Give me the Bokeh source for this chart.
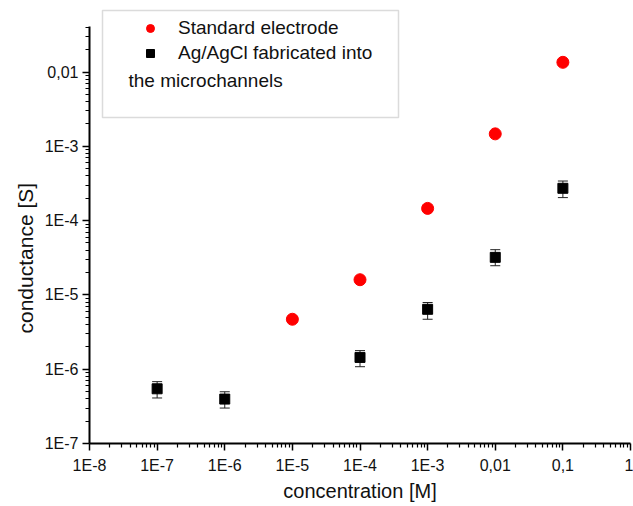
import math
from bokeh.plotting import figure
from bokeh.models import (ColumnDataSource, FixedTicker, Whisker, TeeHead, Legend,
                          LegendItem, Label, BoxAnnotation, Range1d, CustomJSTickFormatter, Title)
from bokeh.embed import file_html
from bokeh.resources import INLINE

# ---- data ----
conc_std = [1e-5, 1e-4, 1e-3, 1e-2, 1e-1]
g_std = [4.7e-6, 1.6e-5, 1.46e-4, 1.47e-3, 1.35e-2]

conc_ag = [1e-7, 1e-6, 1e-4, 1e-3, 1e-2, 1e-1]
g_ag = [5.45e-7, 3.96e-7, 1.44e-6, 6.4e-6, 3.2e-5, 2.72e-4]
g_ag_hi = [6.8e-7, 4.97e-7, 1.78e-6, 7.9e-6, 4.06e-5, 3.41e-4]
g_ag_lo = [4.1e-7, 3.0e-7, 1.08e-6, 4.7e-6, 2.47e-5, 2.04e-4]

x_ticks = [1e-8, 1e-7, 1e-6, 1e-5, 1e-4, 1e-3, 1e-2, 1e-1, 1.0]
x_tick_labels = ["1E-8", "1E-7", "1E-6", "1E-5", "1E-4", "1E-3", "0,01", "0,1", "1"]
y_ticks = [1e-7, 1e-6, 1e-5, 1e-4, 1e-3, 1e-2]
y_tick_labels = ["1E-7", "1E-6", "1E-5", "1E-4", "1E-3", "0,01"]
y_axis_top = 0.0405          # where the drawn y axis ends
y_view_top = 0.081           # extra room above the axis for the legend

x_title = "concentration [M]"
y_title = "conductance [S]"
label_std = "Standard electrode"
label_ag_1 = "Ag/AgCl fabricated into"
label_ag_2 = "the microchannels"

FONT = "Liberation Sans"
TXT = "#111111"

p = figure(width=633, height=506, x_axis_type="log", y_axis_type="log",
           x_range=Range1d(1e-8, 1.0), y_range=Range1d(1e-7, y_view_top),
           output_backend="svg", toolbar_location=None,
           min_border_left=89, min_border_right=3, min_border_top=4, min_border_bottom=63)
p.outline_line_color = None
p.xgrid.visible = False
p.ygrid.visible = False
p.background_fill_color = "white"
p.border_fill_color = "white"

def minor_for(ticks_list, top=None):
    out = []
    for t in ticks_list:
        for k in range(2, 10):
            v = t * k
            if top is None or v <= top * 1.0001:
                out.append(v)
    return out

x_minor = minor_for(x_ticks[:-1])
y_minor = minor_for(y_ticks, top=y_axis_top)

p.xaxis.ticker = FixedTicker(ticks=x_ticks, minor_ticks=x_minor)
p.yaxis.ticker = FixedTicker(ticks=y_ticks, minor_ticks=y_minor)
p.yaxis.bounds = (1e-7, y_axis_top)

fmt_code = """
const e = Math.round(Math.log10(tick));
const i = ticks_e.indexOf(e);
return i >= 0 ? labels[i] : "";
"""
p.xaxis.formatter = CustomJSTickFormatter(
    args=dict(ticks_e=[round(math.log10(t)) for t in x_ticks], labels=x_tick_labels), code=fmt_code)
p.yaxis.formatter = CustomJSTickFormatter(
    args=dict(ticks_e=[round(math.log10(t)) for t in y_ticks], labels=y_tick_labels), code=fmt_code)

for ax in (p.xaxis, p.yaxis):
    ax.axis_line_width = 2
    ax.axis_line_color = "black"
    ax.major_tick_in = 0
    ax.major_tick_out = 7
    ax.minor_tick_in = 0
    ax.minor_tick_out = 4
    ax.major_tick_line_width = 1.5
    ax.minor_tick_line_width = 1.2
    ax.major_tick_line_color = "black"
    ax.minor_tick_line_color = "black"
    ax.major_label_text_font = FONT
    ax.major_label_text_font_size = "16px"
    ax.major_label_text_color = TXT
    ax.axis_label_text_font = FONT
    ax.axis_label_text_font_style = "normal"
    ax.axis_label_text_color = TXT

p.xaxis.axis_label = x_title
p.xaxis.axis_label_text_font_size = "20px"
p.xaxis.major_label_standoff = 6
p.yaxis.major_label_standoff = 4
p.xaxis.axis_label_standoff = 3

# y title as a side Title so that it can be shifted along the axis like in the reference
yt = Title(text=y_title, align="left", offset=110, standoff=10,
           text_font=FONT, text_font_size="21px", text_font_style="normal", text_color=TXT)
p.add_layout(yt, "left")

src_std = ColumnDataSource(dict(x=conc_std, y=g_std))
src_ag = ColumnDataSource(dict(x=conc_ag, y=g_ag, hi=g_ag_hi, lo=g_ag_lo))

w = Whisker(source=src_ag, base="x", upper="hi", lower="lo", dimension="height",
            line_color="#222222", line_width=1,
            upper_head=TeeHead(size=10, line_color="#222222", line_width=1),
            lower_head=TeeHead(size=10, line_color="#222222", line_width=1))
p.add_layout(w)

r_ag = p.scatter("x", "y", source=src_ag, marker="square", size=10,
                 fill_color="black", line_color="black")
r_std = p.scatter("x", "y", source=src_std, marker="circle", size=12,
                  fill_color="#ff0000", line_color="#ff0000")

# legend frame (screen units measured from the frame's bottom-left corner)
box = BoxAnnotation(left=13, right=309, top=433, bottom=326,
                    left_units="screen", right_units="screen",
                    top_units="screen", bottom_units="screen",
                    fill_alpha=0, line_color="#888888", line_width=1.5, level="overlay")
p.add_layout(box)

legend = Legend(items=[LegendItem(label=label_std, renderers=[r_std]),
                       LegendItem(label=label_ag_1, renderers=[r_ag])],
                location=(51, 379), orientation="vertical",
                label_text_font=FONT, label_text_font_size="19px", label_text_color=TXT,
                label_height=22, glyph_height=22, glyph_width=20, spacing=3,
                label_standoff=18, padding=0, margin=0,
                border_line_alpha=0, background_fill_alpha=0)
p.add_layout(legend)

lab = Label(x=39, y=363, x_units="screen", y_units="screen", text=label_ag_2,
            text_font=FONT, text_font_size="19px", text_color=TXT,
            text_baseline="middle", text_align="left")
p.add_layout(lab)

open("out.html", "w").write(file_html(p, INLINE))
